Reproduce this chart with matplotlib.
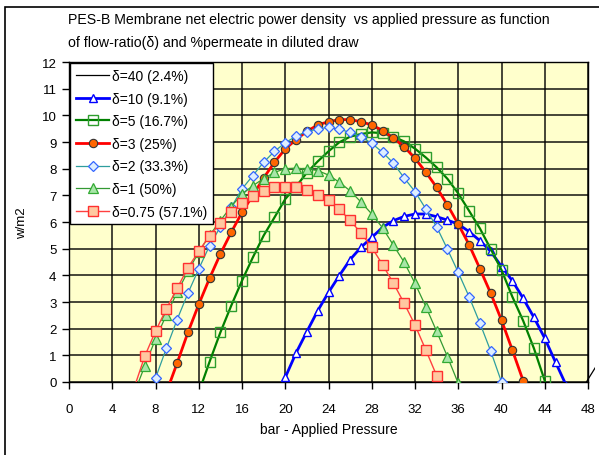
import matplotlib
matplotlib.use("Agg")
import matplotlib.pyplot as plt
from matplotlib.patches import Rectangle

plt.rcParams['font.family'] = ['Liberation Sans', 'DejaVu Sans']

# ---- data ----
x40 = [47, 48, 49]
y40 = [-0.6, 0.1, 0.75]

x10 = list(range(19, 47))
y10 = [-0.75, 0.17, 1.09, 1.89, 2.67, 3.36, 3.99, 4.59, 5.05, 5.42, 5.8, 6.05, 6.21, 6.3,
       6.3, 6.2, 6.07, 5.92, 5.64, 5.3, 4.9, 4.33, 3.8, 3.14, 2.42, 1.64, 0.74, -0.14]

x5 = list(range(12, 46))
y5 = [-0.4, 0.76, 1.86, 2.86, 3.8, 4.67, 5.49, 6.17, 6.86, 7.33, 7.85, 8.27, 8.65, 8.99,
      9.2, 9.3, 9.36, 9.33, 9.2, 9.02, 8.75, 8.42, 8.05, 7.62, 7.07, 6.42, 5.76, 4.99,
      4.2, 3.2, 2.3, 1.26, 0.05, -1.2]

x3 = list(range(9, 43))
y3 = [-0.4, 0.71, 1.86, 2.91, 3.89, 4.8, 5.61, 6.36, 7.0, 7.65, 8.24, 8.74, 9.09, 9.4,
      9.64, 9.76, 9.84, 9.84, 9.76, 9.64, 9.43, 9.15, 8.82, 8.39, 7.87, 7.3, 6.64, 5.92,
      5.15, 4.25, 3.33, 2.32, 1.2, 0.05]

x2 = list(range(8, 41))
y2 = [0.14, 1.26, 2.34, 3.33, 4.24, 5.11, 5.82, 6.55, 7.24, 7.74, 8.24, 8.65, 8.97, 9.22,
      9.39, 9.49, 9.55, 9.48, 9.36, 9.2, 8.95, 8.61, 8.21, 7.65, 7.14, 6.49, 5.82, 4.98,
      4.11, 3.2, 2.21, 1.16, 0.0]

x1 = list(range(6, 37))
y1 = [-0.45, 0.59, 1.61, 2.51, 3.36, 4.15, 4.87, 5.5, 6.05, 6.58, 7.05, 7.36, 7.63, 7.86,
      8.0, 8.02, 7.99, 7.93, 7.76, 7.49, 7.17, 6.75, 6.3, 5.78, 5.13, 4.49, 3.7, 2.83,
      1.9, 0.95, -0.05]

x075 = list(range(6, 36))
y075 = [-0.25, 0.96, 1.9, 2.74, 3.51, 4.29, 4.9, 5.49, 5.95, 6.36, 6.7, 6.96, 7.17, 7.3,
        7.33, 7.3, 7.21, 7.02, 6.82, 6.48, 6.06, 5.59, 5.05, 4.4, 3.71, 2.95, 2.14, 1.2,
        0.24, -0.8]

labels = ["δ=40 (2.4%)", "δ=10 (9.1%)", "δ=5 (16.7%)", "δ=3 (25%)",
          "δ=2 (33.3%)", "δ=1 (50%)", "δ=0.75 (57.1%)"]
xticks = list(range(0, 49, 4))
yticks = list(range(0, 13))

# ---- figure ----
fig = plt.figure(figsize=(5.99, 4.56), dpi=100)
ax = fig.add_axes([69/599, 73/456, 519/599, 320/456])
ax.set_facecolor('#FFFFCC')

l40, = ax.plot(x40, y40, color='black', lw=0.9, label=labels[0], zorder=3)
clip = Rectangle((0, 0), 1.014, 1.0, transform=ax.transAxes, facecolor='none')
l40.set_clip_path(clip)

ax.plot(x10, y10, color='#0000FF', lw=2.0, marker='^', ms=6, mfc='white', mec='#0000FF',
        mew=1.0, label=labels[1], zorder=4)
ax.plot(x5, y5, color='#008000', lw=1.6, marker='s', ms=7, mfc='none', mec='#2E9E2E',
        mew=1.0, label=labels[2], zorder=4)
ax.plot(x3, y3, color='#FF0000', lw=2.0, marker='o', ms=6, mfc='#FF6600', mec='#333333',
        mew=0.8, label=labels[3], zorder=5)
ax.plot(x2, y2, color='#2E9E9E', lw=0.9, marker='D', ms=5.5, mfc='#DDEEFF', mec='#3366FF',
        mew=0.9, label=labels[4], zorder=5)
ax.plot(x1, y1, color='#339933', lw=0.9, marker='^', ms=7, mfc='#A8E6A8', mec='#33AA33',
        mew=0.9, label=labels[5], zorder=5)
ax.plot(x075, y075, color='#FF4040', lw=1.0, marker='s', ms=7, mfc='#FFC8A0', mec='#FF3030',
        mew=1.0, label=labels[6], zorder=5)

ax.set_xlim(0, 48)
ax.set_ylim(0, 12)
ax.set_xticks(xticks)
ax.set_yticks(yticks)
ax.grid(True, color='black', lw=1.2, alpha=0.85, zorder=1)
ax.set_axisbelow(True)
for s in ax.spines.values():
    s.set_color('black')
    s.set_linewidth(1.0)
ax.tick_params(axis='both', direction='out', length=5, width=1, colors='black',
               labelsize=9.5)
ax.tick_params(axis='y', pad=4)
ax.tick_params(axis='x', pad=10)

ax.set_xlabel('bar - Applied Pressure', fontsize=10, labelpad=5)
ax.set_ylabel('w/m2', fontsize=9.5, labelpad=10)

leg = ax.legend(loc='upper left', bbox_to_anchor=(0.0, 1.0), borderaxespad=0.1,
                frameon=True, fancybox=False, edgecolor='black', framealpha=1.0,
                fontsize=10, handlelength=2.4, handletextpad=0.2, labelspacing=0.62,
                borderpad=0.4)
leg.get_frame().set_linewidth(1.0)
leg.set_zorder(10)

fig.text(68/599, 1 - 20/456, 'PES-B Membrane net electric power density  vs applied pressure as function',
         fontsize=10.2, va='center', ha='left')
fig.text(68/599, 1 - 43/456, 'of flow-ratio(δ) and %permeate in diluted draw',
         fontsize=10.2, va='center', ha='left')

fig.add_artist(Rectangle((5/599, -0.02), 1.2, 1 - 8/456 + 0.02, transform=fig.transFigure,
                         facecolor='none', edgecolor='black', lw=1.2, clip_on=False))

fig.savefig('out.png', dpi=100)
